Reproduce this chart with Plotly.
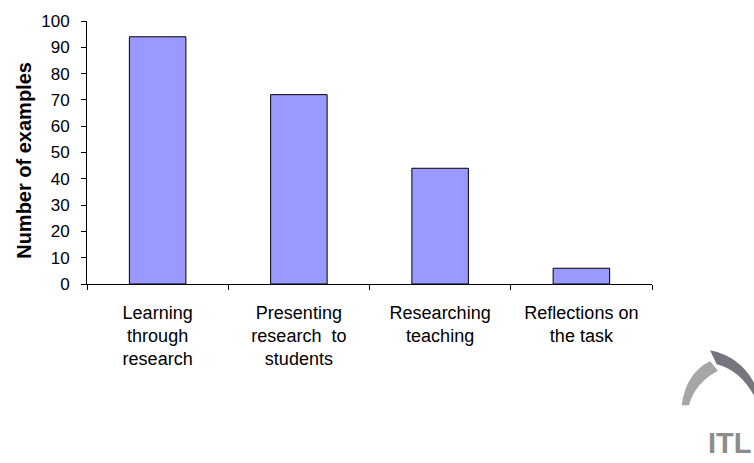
import plotly.graph_objects as go

categories = ["Learning<br>through<br>research", "Presenting<br>research  to<br>students",
              "Researching<br>teaching", "Reflections on<br>the task"]
values = [94, 72, 44, 6]
y_ticks = list(range(0, 101, 10))

W, H = 754, 463
L, R, T, B = 87, 652, 15, 284

def px(x):
    return (x - L) / (R - L)

def py(y):
    return (B - y) / (B - T)

fig = go.Figure(go.Bar(
    x=categories, y=values, width=0.4,
    marker=dict(color="#9999FF", line=dict(color="#000000", width=1)),
))

FAM = "Liberation Sans, Arial, sans-serif"
font = dict(family=FAM, size=17, color="#000000")

fig.update_layout(
    width=W, height=H,
    margin=dict(l=L, r=W - R, t=T, b=H - B, pad=0),
    paper_bgcolor="white", plot_bgcolor="white",
    font=font, showlegend=False, bargap=0.6,
    xaxis=dict(showline=True, linecolor="black", linewidth=1, ticks="outside",
               tickson="boundaries", ticklen=5, tickcolor="black", showgrid=False,
               tickfont=dict(size=18), ticklabelstandoff=12),
    yaxis=dict(range=[0, 100], tickvals=y_ticks, showline=True, linecolor="black",
               linewidth=1, ticks="outside", ticklen=5, tickcolor="black",
               showgrid=False, zeroline=False, tickfont=dict(size=17),
               ticklabelstandoff=8),
)

fig.add_annotation(text="<b>Number of examples</b>", x=px(24), y=py(158),
                   xref="paper", yref="paper", textangle=-90, showarrow=False,
                   xanchor="center", yanchor="middle",
                   font=dict(family=FAM, size=20, color="#000000"))

# ITL logo decoration
left_arc = (f"M {px(681.7)},{py(408)} Q {px(686)},{py(375)} {px(710)},{py(363)} "
            f"L {px(718)},{py(372.7)} Q {px(695)},{py(385)} {px(689)},{py(408)} Z")
right_arc = (f"M {px(710)},{py(351.7)} Q {px(740)},{py(358)} {px(754)},{py(385)} "
             f"L {px(754)},{py(398)} Q {px(740)},{py(372)} {px(716.7)},{py(366)} Z")
fig.add_shape(type="path", path=left_arc, xref="paper", yref="paper",
              fillcolor="#a6a6a6", line=dict(width=0))
fig.add_shape(type="path", path=right_arc, xref="paper", yref="paper",
              fillcolor="#75757d", line=dict(width=0))
fig.add_annotation(text="<b>ITL</b>", x=px(730), y=py(447), xref="paper", yref="paper",
                   showarrow=False, xanchor="center", yanchor="middle",
                   font=dict(family=FAM, size=29, color="#8c8c8c"))

fig.write_html("out.html", config={"displayModeBar": False},
               post_script="document.body.style.margin='0';")
